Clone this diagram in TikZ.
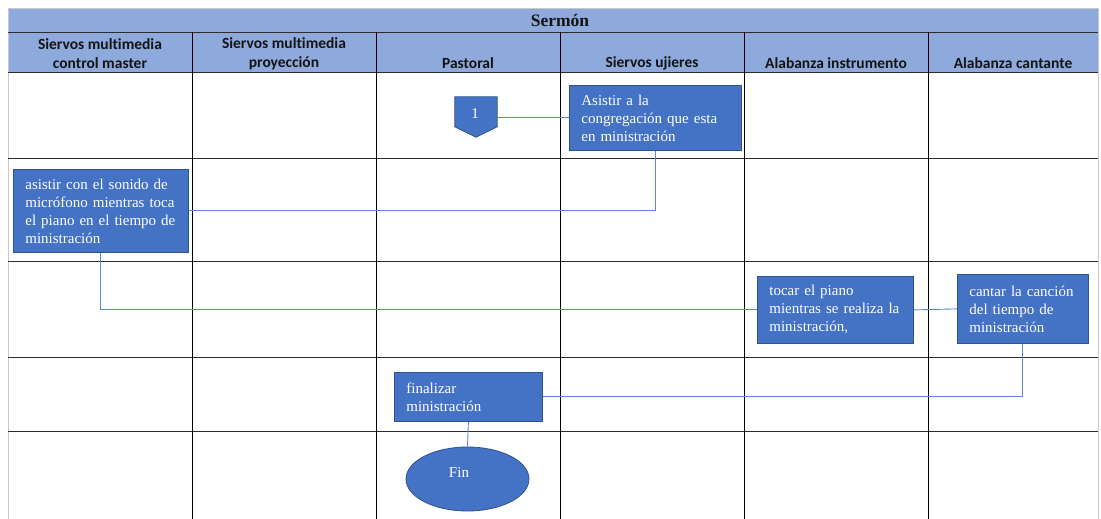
\documentclass[tikz,border=0pt]{standalone}
\usepackage{fontspec}
\setmainfont{Liberation Serif}
\newfontfamily\hdrfont[Ligatures=NoCommon]{Carlito}
\usetikzlibrary{shapes.geometric,calc}
\definecolor{band}{RGB}{142,169,219}
\definecolor{boxfill}{RGB}{68,114,196}
\definecolor{boxline}{RGB}{47,82,143}
\definecolor{conn}{RGB}{91,135,206}
\definecolor{gridline}{RGB}{45,45,45}
\definecolor{edgeline}{RGB}{200,200,200}
\definecolor{hdrtext}{RGB}{20,20,20}
\begin{document}
\begin{tikzpicture}[x=1pt,y=-1pt,
  lane/.style={draw=gridline, line width=0.9pt},
  outer/.style={draw=edgeline, line width=0.9pt},
  hdr/.style={font=\hdrfont\bfseries\fontsize{15.5}{19}\selectfont, text=hdrtext, align=center, inner sep=0pt},
  proc/.style={draw=boxline, fill=boxfill, line width=0.8pt, text=white,
    font=\fontsize{15}{18}\selectfont, align=left, inner xsep=12pt, inner ysep=0pt, anchor=north west},
  link/.style={draw=conn, line width=0.9pt}
]
\useasboundingbox (0,0) rectangle (1101,519);
\fill[white] (0,0) rectangle (1101,519);
% header bands
\fill[band] (8,8) rectangle (1098,72);
\draw[outer] (8,8) -- (1098,8);
\draw[outer] (8,8) -- (8,519);
\draw[outer] (1098,8) -- (1098,519);
\draw[lane] (8,32) -- (1098,32);
\foreach \yy in {72,158,261,357,431} \draw[lane] (8,\yy) -- (1098,\yy);
\foreach \xx in {192,376,560,744,928} \draw[lane, draw=black] (\xx,32) -- (\xx,519);
% titles
\node[font=\bfseries\fontsize{17.5}{20}\selectfont, text=hdrtext] (title) at (560,21) {Sermón};
\node[hdr] (h1) at (100,53.5) {Siervos multimedia\\control master};
\node[hdr] (h2) at (284,53.5) {Siervos multimedia\\proyección};
\node[hdr] (h3) at (468,63) {Pastoral};
\node[hdr] (h4) at (652,63) {Siervos ujieres};
\node[hdr] (h5) at (836,63) {Alabanza instrumento};
\node[hdr] (h6) at (1013,63) {Alabanza cantante};
% nodes
\node[minimum width=42pt, minimum height=40pt, inner sep=0pt] (one) at (476,117) {};
\node[proc, text width=148pt, minimum height=65pt] (asistir) at (569,85) {Asistir a la\\congregación que esta\\en ministración};
\node[proc, text width=151pt, minimum height=83pt] (sonido) at (13,169) {asistir con el sonido de\\micrófono mientras toca\\el piano en el tiempo de\\ministración};
\node[proc, text width=132pt, minimum height=67pt] (tocar) at (757,276) {tocar el piano\\mientras se realiza la\\ministración,};
\node[proc, text width=107pt, minimum height=69pt] (cantar) at (957,274) {cantar la canción\\del tiempo de\\ministración};
\node[proc, text width=124pt, minimum height=49pt] (final) at (394,372) {finalizar\\ministración};
\node[ellipse, draw=boxline, fill=boxfill, line width=0.8pt, minimum width=123pt, minimum height=64pt, inner sep=0pt] (fin) at (467.5,479) {};
% connectors
\draw[link] (one.east) -- (one.east -| asistir.west);
\draw[link] (asistir.south) |- (sonido.east);
\draw[link] (sonido.south) |- (tocar.west);
\draw[link] (tocar.east) -- (cantar.west);
\draw[link] (cantar.south) |- (final.east);
\draw[link] (final.south) -- (fin.north);
% off-page connector shape
\fill[boxfill, draw=boxline, line width=0.8pt] (one.north west) -- (one.north east) -- ($(one.north east)+(0,30)$) -- (one.south) -- ($(one.north west)+(0,30)$) -- cycle;
\node[text=white, font=\fontsize{15}{18}\selectfont] (onelabel) at (475,114) {1};
\node[text=white, font=\fontsize{15}{18}\selectfont] (fintext) at (459,473) {Fin};
\end{tikzpicture}
\end{document}
